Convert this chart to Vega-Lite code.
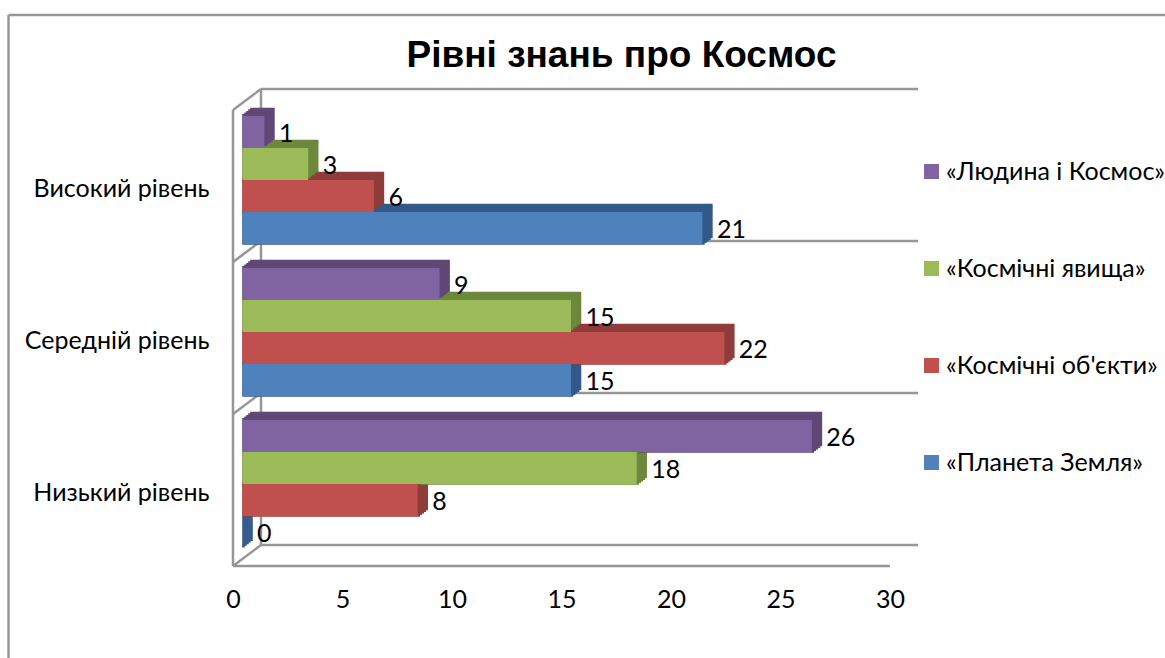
{
"$schema":"https://vega.github.io/schema/vega-lite/v6.json",
"width":685,"height":456,
"autosize":{"type":"none"},
"padding":{"left":233,"top":110,"right":247,"bottom":92},
"background":"#ffffff",
"view":{"stroke":null},
"title":{"text":"Рівні знань про Космос","font":"Liberation Sans","fontWeight":"bold","fontSize":37,"color":"#000000","anchor":"middle","dx":46,"offset":-61},
"datasets":{
"scores":[
{"level":"Високий рівень","series":"«Людина і Космос»","value":1},
{"level":"Високий рівень","series":"«Космічні явища»","value":3},
{"level":"Високий рівень","series":"«Космічні об'єкти»","value":6},
{"level":"Високий рівень","series":"«Планета Земля»","value":21},
{"level":"Середній рівень","series":"«Людина і Космос»","value":9},
{"level":"Середній рівень","series":"«Космічні явища»","value":15},
{"level":"Середній рівень","series":"«Космічні об'єкти»","value":22},
{"level":"Середній рівень","series":"«Планета Земля»","value":15},
{"level":"Низький рівень","series":"«Людина і Космос»","value":26},
{"level":"Низький рівень","series":"«Космічні явища»","value":18},
{"level":"Низький рівень","series":"«Космічні об'єкти»","value":8},
{"level":"Низький рівень","series":"«Планета Земля»","value":0}
],
"walls":[
{"part":"frame","a":-10.25,"a2":42.56,"b":3.625,"b2":3.625},
{"part":"frame","a":-10.25,"a2":-10.25,"b":3.625,"b2":-0.605},
{"part":"side","a":0,"a2":0,"b":0,"b2":3},
{"part":"back","a":1.279,"a2":1.279,"b":0.138,"b2":3.138},
{"part":"floor","a":0,"a2":30,"b":0,"b2":0},
{"part":"diag","a":0,"a2":1.279,"b":0,"b2":0.138},
{"part":"diag","a":0,"a2":1.279,"b":1,"b2":1.138},
{"part":"diag","a":0,"a2":1.279,"b":2,"b2":2.138},
{"part":"diag","a":0,"a2":1.279,"b":3,"b2":3.138},
{"part":"grid","a":1.279,"a2":31.28,"b":0.138,"b2":0.138},
{"part":"grid","a":1.279,"a2":31.28,"b":1.138,"b2":1.138},
{"part":"grid","a":1.279,"a2":31.28,"b":2.138,"b2":2.138},
{"part":"grid","a":1.279,"a2":31.28,"b":3.138,"b2":3.138}
]
},
"encoding":{
"x":{"field":"value","type":"quantitative","title":null,"scale":{"domain":[0,31.28],"nice":false,"zero":false},
"axis":{"values":[0,5,10,15,20,25,30],"grid":false,"domain":false,"ticks":false,"labelFont":"Lato","labelFontSize":25,"labelColor":"#000000","labelPadding":21,"labelFlush":false,"labelOverlap":false}},
"y":{"field":"top","type":"quantitative","title":null,"scale":{"domain":[0,3],"nice":false,"zero":false},
"axis":{"values":[0.5,1.5,2.5],"domain":false,"ticks":false,"grid":false,"labelFont":"Lato","labelFontSize":25,"labelColor":"#000000","labelPadding":24,"labelOffset":2,"labelLimit":300,"labelExpr":"datum.value<1?'Низький рівень':datum.value<2?'Середній рівень':'Високий рівень'"}}
},
"layer":[
{"data":{"name":"walls"},
 "mark":{"type":"rule","stroke":"#969696","strokeWidth":2.5,"clip":false},
 "encoding":{
  "x":{"field":"a","type":"quantitative"},
  "x2":{"field":"a2"},
  "y":{"field":"b","type":"quantitative"},
  "y2":{"field":"b2"}
 }},
{"data":{"name":"scores"},
 "transform":[
  {"calculate":"indexof(['Низький рівень','Середній рівень','Високий рівень'],datum.level)+1-(12+32*indexof(['«Людина і Космос»','«Космічні явища»',\"«Космічні об'єкти»\",'«Планета Земля»'],datum.series))/152","as":"top"},
  {"calculate":"datum.top-32/152","as":"bottom"},
  {"calculate":"datum.top-16/152","as":"mid"},
  {"calculate":"0","as":"base"}
 ],
 "layer":[
 {"mark":{"type":"bar","xOffset":18.5,"x2Offset":18.5,"yOffset":-13,"y2Offset":-13,"strokeWidth":2.6},"encoding":{"x2":{"field":"base"},"y2":{"field":"bottom"},"fill":{"field":"series","type":"nominal","legend":null,"scale":{"domain":["«Планета Земля»","«Космічні об'єкти»","«Космічні явища»","«Людина і Космос»"],"range":["#33598a","#8f3d3a","#6d883c","#5f4776"]}},"stroke":{"field":"series","type":"nominal","legend":null,"scale":{"domain":["«Планета Земля»","«Космічні об'єкти»","«Космічні явища»","«Людина і Космос»"],"range":["#33598a","#8f3d3a","#6d883c","#5f4776"]}}}},
 {"mark":{"type":"bar","xOffset":16.5,"x2Offset":16.5,"yOffset":-11.4,"y2Offset":-11.4,"strokeWidth":2.6},"encoding":{"x2":{"field":"base"},"y2":{"field":"bottom"},"fill":{"field":"series","type":"nominal","legend":null},"stroke":{"field":"series","type":"nominal","legend":null}}},
 {"mark":{"type":"bar","xOffset":14.5,"x2Offset":14.5,"yOffset":-9.8,"y2Offset":-9.8,"strokeWidth":2.6},"encoding":{"x2":{"field":"base"},"y2":{"field":"bottom"},"fill":{"field":"series","type":"nominal","legend":null},"stroke":{"field":"series","type":"nominal","legend":null}}},
 {"mark":{"type":"bar","xOffset":12.5,"x2Offset":12.5,"yOffset":-8.2,"y2Offset":-8.2,"strokeWidth":2.6},"encoding":{"x2":{"field":"base"},"y2":{"field":"bottom"},"fill":{"field":"series","type":"nominal","legend":null},"stroke":{"field":"series","type":"nominal","legend":null}}},
 {"mark":{"type":"bar","xOffset":10.5,"x2Offset":10.5,"yOffset":-6.6,"y2Offset":-6.6,"strokeWidth":2.6},"encoding":{"x2":{"field":"base"},"y2":{"field":"bottom"},"fill":{"field":"series","type":"nominal","legend":null},"stroke":{"field":"series","type":"nominal","legend":null}}},
 {"mark":{"type":"bar","xOffset":9.5,"x2Offset":9.5,"yOffset":-6,"y2Offset":-6},"encoding":{"x2":{"field":"base"},"y2":{"field":"bottom"},
   "color":{"field":"series","type":"nominal","scale":{"domain":["«Людина і Космос»","«Космічні явища»","«Космічні об'єкти»","«Планета Земля»"],"range":["#8064a2","#9bbb59","#c0504d","#4f81bd"]},
    "legend":{"orient":"none","legendX":686,"legendY":49,"title":null,"symbolType":"square","symbolSize":225,"symbolStrokeWidth":0,"labelFont":"Lato","labelFontSize":25,"labelColor":"#000000","labelOffset":2,"rowPadding":71,"padding":0,"labelLimit":300}}}},
 {"mark":{"type":"text","align":"left","baseline":"middle","xOffset":24,"yOffset":-4,"font":"Lato","fontSize":25,"color":"#000000"},"encoding":{"y":{"field":"mid","type":"quantitative"},"text":{"field":"value","type":"quantitative"}}}
 ]}
]
}
